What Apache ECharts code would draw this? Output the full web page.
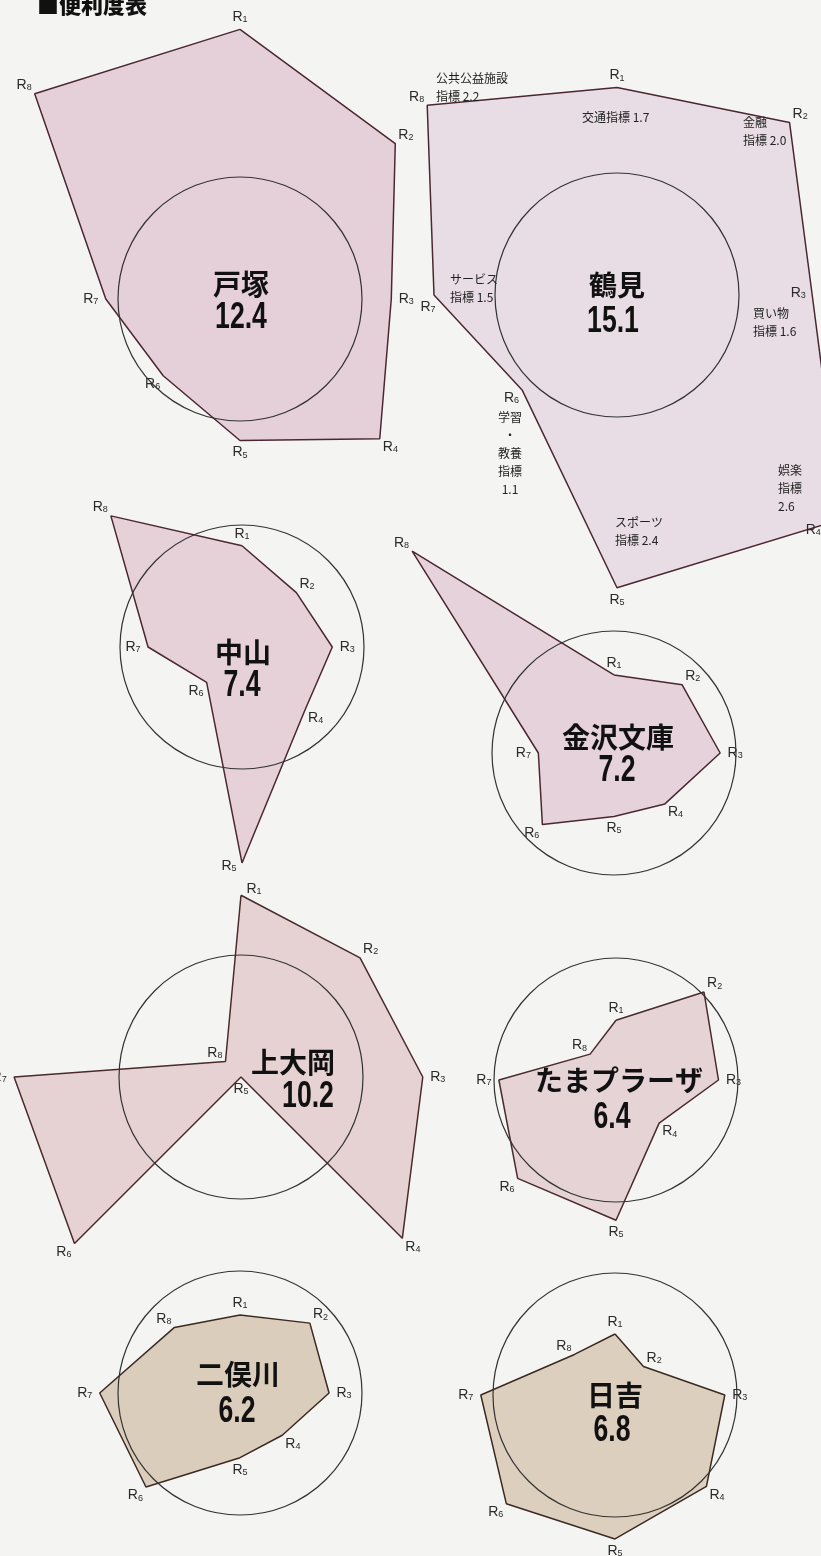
<!DOCTYPE html>
<html>
<head>
<meta charset="utf-8">
<script src="https://cdn.jsdelivr.net/npm/echarts@6/dist/echarts.min.js"></script>
<style>
html,body{margin:0;padding:0;background:#f4f4f2;}
#main{width:821px;height:1556px;}
</style>
</head>
<body>
<div id="main"></div>
<script>
// 便利度表: 8 indices per district, circle = 1.0
var axisLabels = ['R1','R2','R3','R4','R5','R6','R7','R8'];
var districts = ['戸塚','鶴見','中山','金沢文庫','上大岡','たまプラーザ','二俣川','日吉'];
var totals = [12.4, 15.1, 7.4, 7.2, 10.2, 6.4, 6.2, 6.8];

var totsuka   = [2.21, 1.80, 1.24, 1.62, 1.16, 0.89, 1.10, 2.38];
var tsurumi   = [1.7, 2.0, 1.6, 2.6, 2.4, 1.1, 1.5, 2.2];
var nakayama  = [0.83, 0.63, 0.74, 0.73, 1.77, 0.41, 0.77, 1.52];
var kanazawa  = [0.64, 0.79, 0.87, 0.59, 0.52, 0.83, 0.62, 2.34];
var kamiooka  = [1.49, 1.38, 1.49, 1.87, 0.00, 1.93, 1.86, 0.18];
var tamaplaza = [0.49, 1.02, 0.84, 0.50, 1.15, 1.14, 0.96, 0.30];
var futamata  = [0.64, 0.81, 0.73, 0.49, 0.53, 1.09, 1.15, 0.76];
var hiyoshi   = [0.50, 0.33, 0.90, 1.06, 1.18, 1.26, 1.10, 0.47];

// names of the 8 indices (shown for 鶴見)
var indexNames = ['交通指標', '金融\n指標', '買い物\n指標', '娯楽\n指標\n', 'スポーツ\n指標',
                  '学習\n・\n教養\n指標\n', 'サービス\n指標', '公共公益施設\n指標'];

var allValues = [totsuka, tsurumi, nakayama, kanazawa, kamiooka, tamaplaza, futamata, hiyoshi];

// layout
var UNIT = 122, RMAX = 3;
var centers = [[240,299],[617,295],[242,647],[614,753],[241,1077],[616,1080],[240,1393],[615,1395]];
var namePos = [[241,284],[617,285],[243,652],[618,737],[293,1062],[619,1080],[238,1374],[615,1395]];
var totalPos = [[241,318],[613,322],[242,686],[617,771],[308,1097],[612,1118],[237,1412],[612,1431]];
var fills = ['#e5d0d9','#e8dde5','#e6d1d9','#e6d2da','#e6d2d2','#e5d3d6','#dbcdbb','#dccfbe'];
var edges = ['#4b2732','#4b2732','#4b2732','#4b2732','#4a2a2c','#4a2a2c','#3b2a22','#3b2a22'];
var notePos = [[582,108,'left'],[743,113,'left'],[753,304,'left'],[778,461,'left'],
               [615,513,'left'],[510,408,'center'],[450,270,'left'],[436,69,'left']];
// label offsets that differ from the default outward placement: 'chart-dim'
var labelShift = {'1-2': [-14, -2], '1-3': [-28, 11], '1-6': [-6, 12], '2-4': [-13, 3], '4-0': [13, -6]};

var polars = [], angleAxes = [], radiusAxes = [], series = [], graphics = [];

allValues.forEach(function (vals, i) {
    polars.push({center: centers[i], radius: RMAX * UNIT});
    angleAxes.push({
        polarIndex: i, type: 'value', min: 0, max: 8,
        startAngle: 90, clockwise: true, show: false
    });
    radiusAxes.push({
        polarIndex: i, type: 'value', min: 0, max: RMAX, interval: 1, z: 10,
        axisLine: {show: false}, axisTick: {show: false}, axisLabel: {show: false},
        splitLine: {show: true, lineStyle: {color: ['none', '#333', 'none', 'none'], width: 1.2}}
    });

    var data = vals.map(function (v, k) {
        var a = k * Math.PI / 4;
        var off = labelShift[i + '-' + k] || [Math.sin(a) * 15, -Math.cos(a) * 12];
        return {value: [v, k], label: {offset: off}};
    });
    data.push({value: [vals[0], 8], label: {show: false}});

    series.push({
        type: 'line',
        coordinateSystem: 'polar',
        polarIndex: i,
        data: data,
        symbol: 'circle',
        symbolSize: 1,
        silent: true,
        itemStyle: {color: 'transparent'},
        lineStyle: {color: edges[i], width: 1.5},
        areaStyle: {color: fills[i], opacity: 1},
        label: {
            show: true,
            position: 'inside',
            formatter: function (p) {
                return p.dataIndex < 8 ? '{r|R}{n|' + axisLabels[p.dataIndex].slice(1) + '}' : '';
            },
            rich: {
                r: {fontSize: 14, fontFamily: 'Liberation Sans', color: '#2a2a2a'},
                n: {fontSize: 9, fontFamily: 'Liberation Sans', color: '#2a2a2a', padding: [5, 0, 0, 0]}
            }
        }
    });

    graphics.push({
        type: 'text', x: namePos[i][0], y: namePos[i][1], z: 100,
        style: {text: districts[i], font: 'bold 28px "Noto Sans CJK JP"', fill: '#111',
                textAlign: 'center', textVerticalAlign: 'middle', align: 'center', verticalAlign: 'middle'}
    });
    graphics.push({
        type: 'text', x: totalPos[i][0], y: totalPos[i][1], z: 100, scaleX: 0.72,
        style: {text: totals[i].toFixed(1), font: 'bold 37px "Liberation Sans"', fill: '#111',
                textAlign: 'center', textVerticalAlign: 'middle', align: 'center', verticalAlign: 'middle'}
    });
});

// index notes of 鶴見
tsurumi.forEach(function (v, k) {
    var t = indexNames[k];
    var txt = t + (t.charAt(t.length - 1) === '\n' ? '' : ' ') + v.toFixed(1);
    graphics.push({
        type: 'text', x: notePos[k][0], y: notePos[k][1], z: 100,
        style: {text: txt, font: '12px "Noto Sans CJK JP"', fill: '#222', lineHeight: 18,
                textAlign: notePos[k][2], textVerticalAlign: 'top', align: notePos[k][2], verticalAlign: 'top'}
    });
});

graphics.push({
    type: 'text', x: 37, y: 5, z: 100,
    style: {text: '■便利度表', font: '900 22px "Noto Sans CJK JP"', fill: '#111',
            textAlign: 'left', textVerticalAlign: 'middle', align: 'left', verticalAlign: 'middle'}
});

var myChart = echarts.init(document.getElementById('main'));
myChart.setOption({
    backgroundColor: '#f4f4f2',
    animation: false,
    polar: polars,
    angleAxis: angleAxes,
    radiusAxis: radiusAxes,
    series: series,
    graphic: graphics
});
</script>
</body>
</html>
